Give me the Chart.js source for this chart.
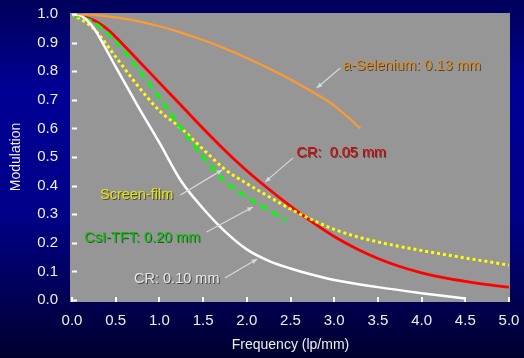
<!DOCTYPE html>
<html lang="en">
<head>
<meta charset="UTF-8">
<title>MTF comparison</title>
<script src="https://cdn.jsdelivr.net/npm/chart.js"></script>
<style>
    html, body { margin: 0; padding: 0; background: #000050; }
    #mtf { display: block; }
</style>
</head>
<body>
<canvas id="mtf" width="524" height="358"></canvas>
<script>
// frequency (lp/mm) / modulation values
const freqSelenium = [0, 0.25, 0.5, 0.75, 1.0, 1.25, 1.5, 1.75, 2.0, 2.25, 2.5, 2.75, 3.0, 3.3];
const mtfSelenium  = [1.0, 0.997, 0.988, 0.975, 0.957, 0.935, 0.909, 0.879, 0.846, 0.81, 0.771, 0.728, 0.68, 0.60];

const freqCR05 = [0, 0.25, 0.4, 0.5, 0.75, 1.0, 1.25, 1.5, 1.75, 2.0, 2.25, 2.5, 2.75, 3.0, 3.25, 3.5, 3.75, 4.0, 4.25, 4.5, 4.75, 5.0];
const mtfCR05  = [1.0, 0.978, 0.948, 0.92, 0.84, 0.76, 0.68, 0.60, 0.523, 0.452, 0.388, 0.328, 0.272, 0.222, 0.18, 0.145, 0.117, 0.095, 0.078, 0.065, 0.054, 0.045];

const freqScreen = [0, 0.25, 0.5, 0.75, 1.0, 1.25, 1.5, 1.75, 2.0, 2.25, 2.5, 2.75, 3.0, 3.25, 3.5, 3.75, 4.0, 4.5, 5.0];
const mtfScreen  = [1.0, 0.948, 0.85, 0.75, 0.662, 0.60, 0.527, 0.457, 0.407, 0.362, 0.318, 0.28, 0.247, 0.222, 0.203, 0.187, 0.173, 0.147, 0.122];

const freqCsI = [0, 0.25, 0.5, 0.75, 1.0, 1.25, 1.5, 1.75, 2.0, 2.25, 2.45];
const mtfCsI  = [1.0, 0.97, 0.905, 0.81, 0.708, 0.60, 0.50, 0.415, 0.36, 0.315, 0.278];

const freqCR10 = [0, 0.125, 0.25, 0.375, 0.5, 0.75, 1.0, 1.25, 1.5, 1.75, 2.0, 2.25, 2.5, 2.75, 3.0, 3.5, 4.0, 4.5];
const mtfCR10  = [1.0, 0.99, 0.95, 0.885, 0.815, 0.68, 0.55, 0.415, 0.32, 0.24, 0.177, 0.137, 0.11, 0.088, 0.07, 0.045, 0.024, 0.005];

const xTicks = [0, 0.5, 1.0, 1.5, 2.0, 2.5, 3.0, 3.5, 4.0, 4.5, 5.0];

// labels + arrows (positions in data units)
const notes = [
    { text: 'a-Selenium: 0.13 mm', color: '#e08a1c', at: [3.10, 0.818], from: [3.07, 0.811], to: [2.80, 0.741] },
    { text: 'CR:  0.05 mm',        color: '#e00000', at: [2.57, 0.514], from: [2.53, 0.497], to: [2.21, 0.413] },
    { text: 'Screen-film',         color: '#e6e600', at: [0.32, 0.367], from: [1.24, 0.367], to: [1.72, 0.455] },
    { text: 'CsI-TFT: 0.20 mm',    color: '#00cc00', at: [0.14, 0.217], from: [1.54, 0.238], to: [2.07, 0.325] },
    { text: 'CR: 0.10 mm',         color: '#e8e8e8', at: [0.71, 0.073], from: [1.75, 0.077], to: [2.12, 0.143] }
];

const pts = (xs, ys) => xs.map((x, i) => ({ x, y: ys[i] }));
const FONT = '"Liberation Sans", Arial, sans-serif';

const backdrop = {
    id: 'backdrop',
    beforeDraw(chart) {
        const { ctx, width, height, chartArea: a } = chart;
        const g = ctx.createLinearGradient(0, 0, 0, height);
        g.addColorStop(0, '#00005a');
        g.addColorStop(0.25, '#000094');
        g.addColorStop(0.6, '#000088');
        g.addColorStop(1, '#00002e');
        ctx.save();
        ctx.fillStyle = g;
        ctx.fillRect(0, 0, width, height);
        ctx.fillStyle = '#969696';
        ctx.fillRect(a.left - 2, a.top - 1, a.right - a.left + 3, a.bottom - a.top + 3);
        ctx.restore();
    },
    afterDraw(chart) {
        const { ctx, chartArea: a } = chart;
        const xs = chart.scales.x, ys = chart.scales.y;
        ctx.save();
        // inward tick marks
        ctx.strokeStyle = '#ffffff';
        ctx.lineWidth = 2;
        ys.ticks.forEach(t => {
            const y = Math.round(ys.getPixelForValue(t.value)) + 0.5;
            ctx.beginPath(); ctx.moveTo(a.left, y); ctx.lineTo(a.left + 5, y); ctx.stroke();
        });
        xs.ticks.forEach(t => {
            const x = Math.round(xs.getPixelForValue(t.value));
            ctx.beginPath(); ctx.moveTo(x, a.bottom + 2); ctx.lineTo(x, a.bottom - 3); ctx.stroke();
        });
        // annotations
        ctx.font = '14.5px ' + FONT;
        ctx.textBaseline = 'middle';
        ctx.textAlign = 'left';
        notes.forEach(n => {
            const x1 = xs.getPixelForValue(n.from[0]), y1 = ys.getPixelForValue(n.from[1]);
            const x2 = xs.getPixelForValue(n.to[0]), y2 = ys.getPixelForValue(n.to[1]);
            const ang = Math.atan2(y2 - y1, x2 - x1);
            ctx.strokeStyle = '#d8d8d8';
            ctx.fillStyle = '#d8d8d8';
            ctx.lineWidth = 1.2;
            ctx.beginPath(); ctx.moveTo(x1, y1); ctx.lineTo(x2, y2); ctx.stroke();
            ctx.beginPath();
            ctx.moveTo(x2, y2);
            ctx.lineTo(x2 - 6 * Math.cos(ang - 0.4), y2 - 6 * Math.sin(ang - 0.4));
            ctx.lineTo(x2 - 6 * Math.cos(ang + 0.4), y2 - 6 * Math.sin(ang + 0.4));
            ctx.closePath(); ctx.fill();

            ctx.shadowColor = 'rgba(0,0,0,0.55)';
            ctx.shadowOffsetX = 1; ctx.shadowOffsetY = 1; ctx.shadowBlur = 0;
            ctx.fillStyle = n.color;
            ctx.fillText(n.text, xs.getPixelForValue(n.at[0]), ys.getPixelForValue(n.at[1]));
            ctx.shadowColor = 'transparent';
        });
        ctx.restore();
    }
};

const line = (label, xs, ys, color, width, dash) => ({
    label, data: pts(xs, ys), borderColor: color, borderWidth: width,
    borderDash: dash || [], pointRadius: 0, cubicInterpolationMode: 'monotone', fill: false
});

new Chart(document.getElementById('mtf'), {
    type: 'line',
    data: {
        datasets: [
            line('a-Selenium: 0.13 mm', freqSelenium, mtfSelenium, '#ff9933', 2.2),
            line('CR: 0.10 mm', freqCR10, mtfCR10, '#ffffff', 2.5),
            line('CsI-TFT: 0.20 mm', freqCsI, mtfCsI, '#00ff00', 3, [8, 5]),
            line('Screen-film', freqScreen, mtfScreen, '#ffff00', 3, [3, 3]),
            line('CR: 0.05 mm', freqCR05, mtfCR05, '#ff0000', 2.8)
        ]
    },
    options: {
        responsive: false,
        animation: false,
        layout: { padding: { top: 14, right: 15, left: 0, bottom: 0 } },
        plugins: { legend: { display: false }, tooltip: { enabled: false } },
        scales: {
            x: {
                type: 'linear', min: 0, max: 5,
                afterBuildTicks: s => { s.ticks = xTicks.map(v => ({ value: v })); },
                afterFit: s => { s.height = 58; s.paddingLeft = 0; s.paddingRight = 0; },
                grid: { display: false, drawTicks: false },
                border: { display: false },
                ticks: { color: '#eeeeee', font: { family: FONT, size: 15 }, padding: 12,
                         maxRotation: 0, callback: v => v.toFixed(1) },
                title: { display: true, text: 'Frequency (lp/mm)', color: '#eeeeee',
                         font: { family: FONT, size: 14 }, padding: { top: 0, bottom: 4 } }
            },
            y: {
                min: 0, max: 1,
                afterFit: s => { s.width = 72; s.paddingTop = 0; s.paddingBottom = 0; },
                grid: { display: false, drawTicks: false },
                border: { display: false },
                ticks: { stepSize: 0.1, color: '#eeeeee', font: { family: FONT, size: 15 }, padding: 14,
                         callback: v => v.toFixed(1) },
                title: { display: true, text: 'Modulation', color: '#eeeeee',
                         font: { family: FONT, size: 14 }, padding: { top: 8, bottom: 0 } }
            }
        }
    },
    plugins: [backdrop]
});
</script>
</body>
</html>
